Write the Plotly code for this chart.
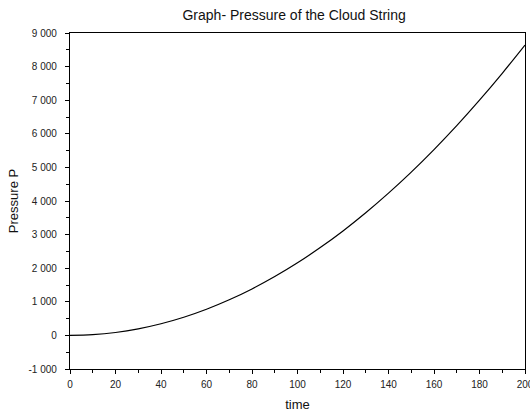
import plotly.graph_objects as go

time = [0, 10, 20, 30, 40, 50, 60, 70, 80, 90, 100, 110, 120, 130, 140, 150, 160, 170, 180, 190, 200]
pressure = [0, 22, 87, 195, 346, 540, 778, 1059, 1383, 1750, 2160, 2614, 3110, 3650, 4234, 4860, 5530, 6242, 7000, 7800, 8640]

x_tickvals = [0, 20, 40, 60, 80, 100, 120, 140, 160, 180, 200]
x_ticktext = ["0", "20", "40", "60", "80", "100", "120", "140", "160", "180", "200"]
y_tickvals = [-1000, 0, 1000, 2000, 3000, 4000, 5000, 6000, 7000, 8000, 9000]
y_ticktext = ["-1 000", "0", "1 000", "2 000", "3 000", "4 000", "5 000", "6 000", "7 000", "8 000", "9 000"]

FONT = "Liberation Sans, Arial, sans-serif"

fig = go.Figure()
fig.add_trace(go.Scatter(x=time, y=pressure, mode="lines", line=dict(color="black", width=1.2, shape="spline"),
                         showlegend=False))

axis_common = dict(
    showgrid=False, zeroline=False, showline=True, linecolor="black", linewidth=1.3, mirror=True,
    ticks="outside", ticklen=4, tickwidth=1, tickcolor="black", ticklabeloverflow="allow",
    automargin=False,
    tickfont=dict(family=FONT, size=10, color="#222"),
)

fig.update_layout(
    width=530, height=412,
    margin=dict(l=70, r=5, t=33, b=43),
    paper_bgcolor="white", plot_bgcolor="white",
    title=dict(text="Graph- Pressure of the Cloud String", x=0.555, xanchor="center", y=0.963, yanchor="middle",
               font=dict(family=FONT, size=14, color="#111")),
    xaxis=dict(range=[0, 200], tickmode="array", tickvals=x_tickvals, ticktext=x_ticktext,
               minor=dict(ticks="outside", ticklen=3, dtick=10, tickcolor="black"),
               ticklabelstandoff=2,
               title=dict(text="time", standoff=10, font=dict(family=FONT, size=13, color="#111")),
               **axis_common),
    yaxis=dict(range=[-1000, 9000], tickmode="array", tickvals=y_tickvals, ticktext=y_ticktext,
               minor=dict(ticks="outside", ticklen=3, dtick=500, tickcolor="black"),
               ticklabelstandoff=6,
               title=dict(text="Pressure P", standoff=6, font=dict(family=FONT, size=13, color="#111")),
               **axis_common),
)

fig.write_html("out.html")
